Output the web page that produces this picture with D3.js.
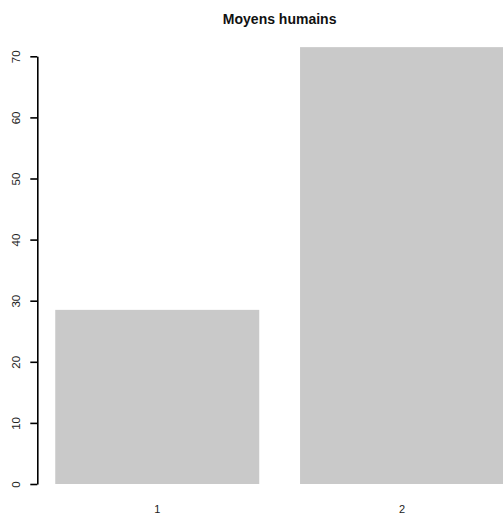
<!DOCTYPE html>
<html>
<head>
<meta charset="utf-8">
<script src="https://cdn.jsdelivr.net/npm/d3@7"></script>
<style>
  html, body { margin: 0; padding: 0; background: #fff; overflow: hidden; }
  svg { display: block; font-family: "Liberation Sans", Arial, sans-serif; }
</style>
</head>
<body>
<svg id="chart" width="503" height="522"></svg>
<script>
const title = "Moyens humains";
const categories = ["1", "2"];
const values = [28.5, 71.5];
const yTicks = [0, 10, 20, 30, 40, 50, 60, 70];

const svg = d3.select("#chart");

// R barplot geometry: width 1, space 0.2
const space = 0.2, barW = 1;
const lefts = categories.map((c, i) => space + i * (barW + space));
const xmin = lefts[0], xmax = lefts[lefts.length - 1] + barW;
const xpad = (xmax - xmin) * 0.04;

const plotL = 37.3, plotR = 522;
const x = d3.scaleLinear().domain([xmin - xpad, xmax + xpad]).range([plotL, plotR]);
const y = d3.scaleLinear().domain([0, 70]).range([484, 56.3]);

svg.append("g").selectAll("rect")
  .data(values)
  .join("rect")
  .attr("x", (d, i) => x(lefts[i]))
  .attr("width", (d, i) => x(lefts[i] + barW) - x(lefts[i]))
  .attr("y", d => y(d))
  .attr("height", d => y(0) - y(d))
  .attr("fill", "#c9c9c9");

// Y axis
const yAxis = d3.axisLeft(y).tickValues(yTicks).tickSize(7).tickSizeOuter(0);
const ga = svg.append("g").attr("transform", `translate(${plotL},0)`).call(yAxis);
ga.select(".domain").attr("stroke", "#000").attr("stroke-width", 1.6);
ga.selectAll(".tick line").attr("stroke", "#000").attr("stroke-width", 1.6);
ga.selectAll(".tick text")
  .attr("font-size", 11.5)
  .attr("fill", "#222")
  .attr("x", null).attr("dy", null)
  .attr("transform", "translate(-21.5,0) rotate(-90)")
  .attr("text-anchor", "middle")
  .attr("dominant-baseline", "central");

// X labels
svg.append("g").selectAll("text")
  .data(categories)
  .join("text")
  .attr("x", (d, i) => x(lefts[i] + barW / 2))
  .attr("y", 513)
  .attr("text-anchor", "middle")
  .attr("font-size", 11)
  .attr("fill", "#222")
  .text(d => d);

// Title
svg.append("text")
  .attr("x", (plotL + plotR) / 2)
  .attr("y", 23.5)
  .attr("text-anchor", "middle")
  .attr("font-size", 14)
  .attr("font-weight", "bold")
  .attr("fill", "#111")
  .text(title);
</script>
</body>
</html>
